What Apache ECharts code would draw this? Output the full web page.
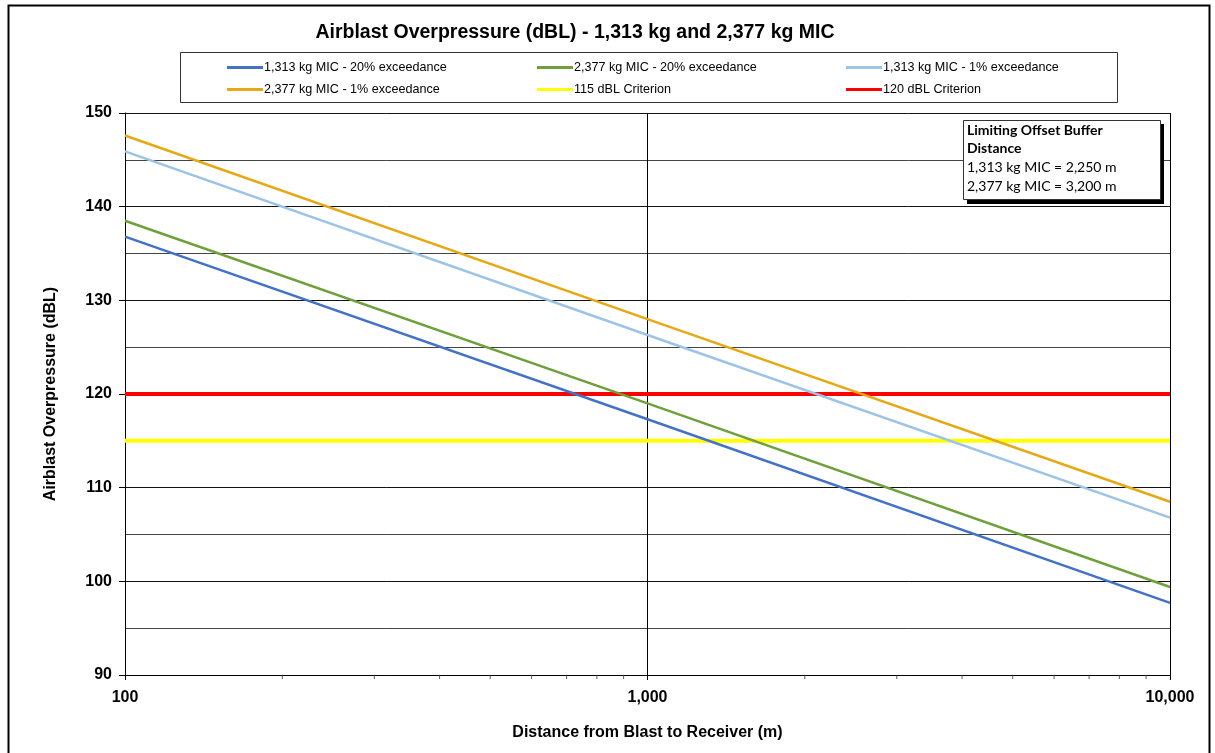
<!DOCTYPE html>
<html><head><meta charset="utf-8">
<script src="https://cdn.jsdelivr.net/npm/echarts@6/dist/echarts.min.js"></script>
<style>html,body{margin:0;padding:0;background:#fff}#c{width:1215px;height:753px}</style>
</head><body><div id="c"></div>
<script>
const distances = [100, 1000, 10000];
const s1313_20 = [136.8, 117.3, 97.7];
const s2377_20 = [138.5, 119.0, 99.4];
const s1313_1 = [145.9, 126.3, 106.8];
const s2377_1 = [147.6, 128.0, 108.5];
const crit115 = [115, 115, 115];
const crit120 = [120, 120, 120];
const seriesNames = ['1,313 kg MIC - 20% exceedance','2,377 kg MIC - 20% exceedance','1,313 kg MIC - 1% exceedance','2,377 kg MIC - 1% exceedance','115 dBL Criterion','120 dBL Criterion'];
const seriesColors = ['#4472C4','#70A03C','#9DC3E6','#E6A817','#FFFF00','#FF0000'];
const seriesWidths = [2.5,2.5,2.5,2.5,4,4];
const seriesValues = [s1313_20, s2377_20, s1313_1, s2377_1, crit115, crit120];
const minorTickX = [200,300,400,500,600,700,800,900,2000,3000,4000,5000,6000,7000,8000,9000];
const annoLines = ['Limiting Offset Buffer','Distance','1,313 kg MIC = 2,250 m','2,377 kg MIC = 3,200 m'];

const sans = '"Liberation Sans", Arial, sans-serif';
const chart = echarts.init(document.getElementById('c'));

const series = seriesNames.map((n,i)=>({
  name:n, type:'line', symbol:'none', smooth:false,
  lineStyle:{color:seriesColors[i], width:seriesWidths[i]}, itemStyle:{color:seriesColors[i]},
  data: distances.map((d,j)=>[d, seriesValues[i][j]]), z: i>=4 ? 3 : 4
}));
series.push({
  type:'scatter', name:'minorTicks', silent:true, symbol:'rect', symbolSize:[1,4], symbolOffset:[0,2],
  itemStyle:{color:'#333'}, data:minorTickX.map(x=>[x,90]), clip:false, z:5
});

const legendCols = [227, 537, 846];
const legendRows = [61, 83];
const legends = seriesNames.map((n,i)=>({
  data:[n], left:legendCols[i%3], top:legendRows[Math.floor(i/3)], padding:0,
  itemWidth:36, itemHeight:3, icon:'rect', itemGap:2,
  textStyle:{fontFamily:sans, fontSize:12.6, color:'#000', padding:[0,0,0,-4]}, selectedMode:false
}));

chart.setOption({
  animation:false,
  backgroundColor:'#fff',
  title:{text:'Airblast Overpressure (dBL) - 1,313 kg and 2,377 kg MIC', left:575, textAlign:'center', top:23, padding:0,
    textStyle:{fontFamily:sans, fontSize:19.5, fontWeight:'bold', color:'#000'}},
  legend:legends,
  grid:{left:125, right:45, top:113, bottom:78, containLabel:false},
  xAxis:{type:'log', logBase:10, min:100, max:10000,
    name:'Distance from Blast to Receiver (m)', nameLocation:'middle', nameGap:50,
    nameTextStyle:{fontFamily:sans, fontSize:16, fontWeight:'bold', color:'#000'},
    axisLine:{show:true, lineStyle:{color:'#000', width:1}},
    axisTick:{show:true, length:5, lineStyle:{color:'#000'}},
    axisLabel:{fontFamily:sans, fontSize:16, fontWeight:'bold', color:'#000', margin:15,
      formatter:v=>Number(v).toLocaleString('en-US')},
    splitLine:{show:true, lineStyle:{color:'#000', width:1}},
    minorTick:{show:false}, minorSplitLine:{show:false}},
  yAxis:{type:'value', min:90, max:150, interval:10,
    name:'Airblast Overpressure (dBL)', nameLocation:'middle', nameGap:66, nameRotate:90,
    nameTextStyle:{fontFamily:sans, fontSize:16, fontWeight:'bold', color:'#000'},
    axisLine:{show:true, lineStyle:{color:'#000', width:1}},
    axisTick:{show:true, length:6, lineStyle:{color:'#000'}},
    axisLabel:{fontFamily:sans, fontSize:16, fontWeight:'bold', color:'#000', margin:13},
    splitLine:{show:true, lineStyle:{color:'#111', width:1}},
    minorTick:{show:false, splitNumber:2},
    minorSplitLine:{show:true, lineStyle:{color:'#444', width:1}}},
  series:series,
  graphic:[
    {type:'rect', left:6, top:3, shape:{width:1201, height:760}, style:{fill:'none', stroke:'#000', lineWidth:2}, z:-1, silent:true},
    {type:'rect', left:180, top:52, shape:{width:937, height:50}, style:{fill:'#fff', stroke:'#333', lineWidth:1}, z:-1, silent:true},
    {type:'rect', left:967, top:124, shape:{width:197, height:80}, style:{fill:'#000'}, z:10, silent:true},
    {type:'rect', left:963, top:120, shape:{width:197, height:79}, style:{fill:'#fff', stroke:'#333', lineWidth:1}, z:11, silent:true},
    {type:'text', left:967, top:123, z:12, silent:true, style:{
      text:'{b|'+annoLines[0]+'}\n{b|'+annoLines[1]+'}\n{n|'+annoLines[2]+'}\n{n|'+annoLines[3]+'}',
      rich:{b:{fontFamily:'Lato, "Open Sans", sans-serif', fontSize:14, fontWeight:'bold', lineHeight:18.7, fill:'#000'},
            n:{fontFamily:'Lato, "Open Sans", sans-serif', fontSize:14, lineHeight:18.7, fill:'#000'}}}}
  ]
});
</script></body></html>
